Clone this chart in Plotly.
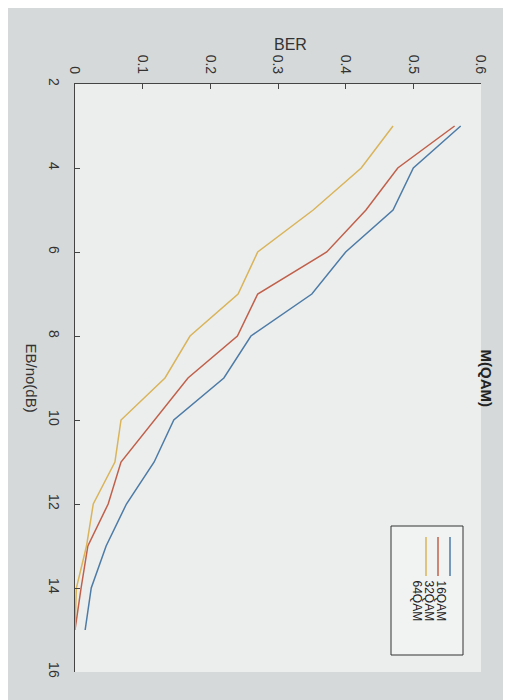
import plotly.graph_objects as go

ebno = [3, 4, 5, 6, 7, 8, 9, 10, 11, 12, 13, 14, 15]
ber_16qam = [0.57, 0.50, 0.47, 0.40, 0.35, 0.26, 0.22, 0.146, 0.117, 0.076, 0.046, 0.024, 0.015]
ber_32qam = [0.561, 0.477, 0.43, 0.372, 0.27, 0.24, 0.167, 0.118, 0.068, 0.049, 0.019, 0.009, 0.0]
ber_64qam = [0.47, 0.423, 0.352, 0.27, 0.241, 0.17, 0.133, 0.068, 0.059, 0.027, 0.017, 0.002, 0.0]
names = ["16QAM", "32QAM", "64QAM"]
colors = ["#4d7ba6", "#c0604a", "#d9b45a"]

fig = go.Figure()
# the photographed plot is rotated 90 deg clockwise: BER runs across, EB/no runs down
for name, ber, col in zip(names, [ber_16qam, ber_32qam, ber_64qam], colors):
    fig.add_trace(go.Scatter(x=ber, y=ebno, mode="lines", name=name,
                             line=dict(color=col, width=1.5)))

font = dict(family="Liberation Sans, Arial", size=14, color="#333")
fig.update_layout(
    width=511, height=700, showlegend=False,
    margin=dict(l=67, r=38, t=76, b=36),
    paper_bgcolor="#d6d9d9", plot_bgcolor="#eceeee", font=font,
    xaxis=dict(range=[0, 0.6], side="top", tickvals=[0, 0.1, 0.2, 0.3, 0.4, 0.5, 0.6],
               ticktext=["0", "0.1", "0.2", "0.3", "0.4", "0.5", "0.6"], tickangle=90,
               ticks="inside", ticklen=5, showgrid=False, zeroline=False,
               showline=True, linecolor="#444", ticklabelstandoff=4),
    yaxis=dict(range=[16, 2], tickvals=list(range(2, 17, 2)), tickangle=90,
               ticks="inside", ticklen=5, showgrid=False, zeroline=False,
               showline=True, linecolor="#444", ticklabelstandoff=8),
    annotations=[
        dict(text="BER", x=0.53, y=1.0, yshift=50, xref="paper", yref="paper",
             showarrow=False, font=dict(size=16, color="#333")),
        dict(text="EB/no(dB)", x=0.0, xshift=-54, y=0.5, xref="paper", yref="paper",
             textangle=90, showarrow=False, font=dict(size=15, color="#333")),
        dict(text="<b>M(QAM)</b>", x=1.0, xshift=16, y=0.5, xref="paper", yref="paper",
             textangle=90, showarrow=False, font=dict(size=15, color="#222")),
    ],
)

# rotated legend drawn by hand
lx = [442, 430, 418]
fig.add_shape(type="rect", xref="paper", yref="paper",
              x0=(383 - 67) / 406, x1=(455 - 67) / 406,
              y0=(664 - 647) / 588, y1=(664 - 518) / 588,
              line=dict(color="#333", width=1), fillcolor="#f1f2f2")
for name, col, px in zip(names, colors, lx):
    xp = (px - 67) / 406
    fig.add_shape(type="line", xref="paper", yref="paper", x0=xp, x1=xp,
                  y0=(664 - 568) / 588, y1=(664 - 529) / 588, line=dict(color=col, width=1.5))
    fig.add_annotation(text=name, x=xp, y=(664 - 615) / 588, xref="paper", yref="paper",
                       textangle=90, showarrow=False, font=dict(size=12, color="#222"))

fig.write_html("out.html")
